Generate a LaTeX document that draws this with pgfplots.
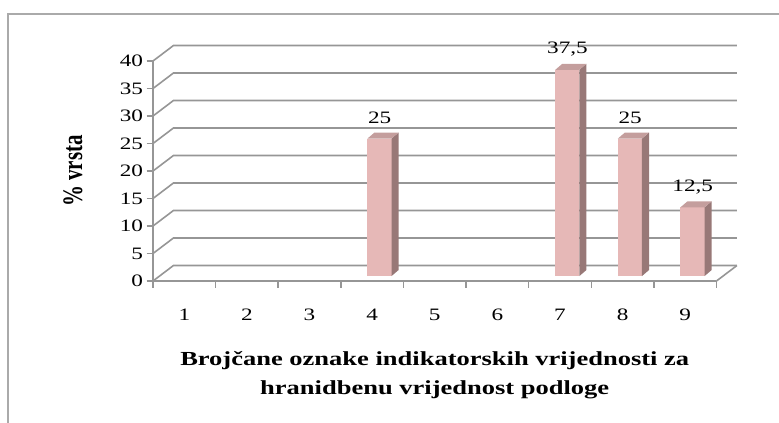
\documentclass[border=0pt]{standalone}
\usepackage{fontspec}
\setmainfont{Liberation Serif}[FakeStretch=1.33]
\newfontfamily\ylabfont{Liberation Serif}
\usepackage{pgfplots}
\pgfplotsset{compat=1.18}
\definecolor{gridc}{RGB}{150,150,150}
\definecolor{barfront}{RGB}{230,184,183}
\definecolor{barside}{RGB}{152,120,119}
\definecolor{bartop}{RGB}{196,158,157}
\definecolor{framec}{RGB}{170,170,170}

\newcommand{\threedbar}[2]{%
 \pgfmathsetmacro\xa{#1-0.075}%
 \pgfmathsetmacro\xb{#1+0.31}%
 \pgfmathsetmacro\xc{#1+0.422}%
 \pgfmathsetmacro\xd{#1+0.037}%
 \pgfmathsetmacro\ya{0.9}%
 \pgfmathsetmacro\yb{0.9+1.09}%
 \pgfmathsetmacro\yc{#2+0.9}%
 \pgfmathsetmacro\yd{#2+0.9+1.09}%
 \addplot[fill=barfront, draw=none] coordinates {(\xa,\ya) (\xb,\ya) (\xb,\yc) (\xa,\yc)} --cycle;
 \addplot[fill=barside, draw=none] coordinates {(\xb,\ya) (\xc,\yb) (\xc,\yd) (\xb,\yc)} --cycle;
 \addplot[fill=bartop, draw=none] coordinates {(\xa,\yc) (\xd,\yd) (\xc,\yd) (\xb,\yc)} --cycle;
}

\begin{document}
\begin{tikzpicture}
\path[use as bounding box] (0,0) rectangle (779bp,423bp);
\draw[framec, line width=1.4bp] (8bp,-5bp) -- (8bp,409bp) -- (790bp,409bp);
\begin{axis}[
 at={(153bp,142bp)}, anchor=south west,
 scale only axis, width=563.5bp, height=220bp,
 xmin=0.5, xmax=9.5, ymin=0, ymax=40,
 clip=false,
 axis lines*=left,
 axis line style={gridc, line width=1.5bp},
 tick style={gridc, line width=1.5bp},
 major tick length=6.5bp,
 tick align=outside,
 xtick={0.5,1.5,...,9.5},
 x tick label as interval,
 xticklabels={1,2,3,4,5,6,7,8,9},
 ytick={0,5,...,40},
 yticklabel={\pgfmathprintnumber{\tick}\hspace{11bp}},
 /pgf/number format/assume math mode=true,
 ticklabel style={font=\fontsize{17.5}{20}\selectfont},
 xticklabel style={yshift=-18bp},
 xlabel={Brojčane oznake indikatorskih vrijednosti za\\hranidbenu vrijednost podloge},
 xlabel style={at={(axis description cs:0.5,0)}, anchor=north, yshift=-67bp, align=center,
   font=\bfseries\fontsize{20}{29}\selectfont},
]
\pgfplotsinvokeforeach{0,5,...,40}{
 \draw[gridc, line width=1.6bp] (axis cs:0.5,#1) -- (axis cs:0.827,{#1+2.82}) -- (axis cs:9.827,{#1+2.82});
}
\draw[gridc, line width=1.6bp] (axis cs:9.5,0) -- (axis cs:9.827,2.82);
\threedbar{4}{25}
\threedbar{7}{37.5}
\threedbar{8}{25}
\threedbar{9}{12.5}
\addplot[only marks, mark size=0pt, mark options={draw=none,fill=none},
  nodes near coords, point meta=explicit symbolic,
  nodes near coords style={anchor=center, yshift=25.5bp, font=\fontsize{17.5}{20}\selectfont}]
  coordinates {(4.12,25)[25] (7.12,37.5)[37,5] (8.12,25)[25] (9.12,12.5)[12,5]};
\node[rotate=90, anchor=center, inner sep=0pt] at ([xshift=-80bp]axis description cs:0,0.5)
  {\scalebox{1}[1.35]{\ylabfont\bfseries\fontsize{21}{21}\selectfont\% vrsta}};
\end{axis}
\end{tikzpicture}
\end{document}
